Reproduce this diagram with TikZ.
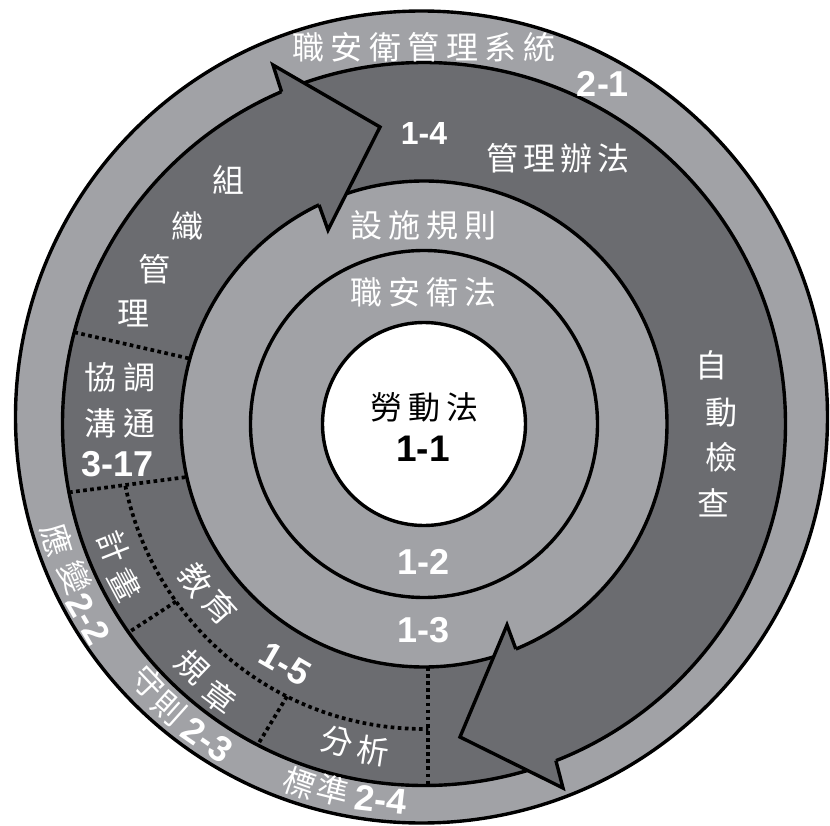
\documentclass[tikz,border=0pt]{standalone}
\usepackage{fontspec}
\newfontfamily\cjk{Noto Sans CJK TC}
\newfontfamily\numf{Liberation Sans}
\definecolor{lightg}{RGB}{161,162,166}
\definecolor{darkg}{RGB}{107,108,112}
\newcommand{\cg}{\hspace{6pt}}
\newcommand{\nbf}{\numf\bfseries\fontsize{36}{36}\selectfont}
\begin{document}
\begin{tikzpicture}[x=1pt,y=1pt,
  cj/.style={font=\cjk\fontsize{32}{32}\selectfont, text=white, inner sep=0pt},
  nb/.style={font=\nbf, text=white, inner sep=0pt},
  ringline/.style={draw=black, line width=3.4pt},
  dotline/.style={draw=black, line width=3.7pt, dash pattern=on 3.7pt off 3.4pt},
  headline/.style={draw=black, line width=3.4pt, line join=miter}]
\useasboundingbox (-424,-401) rectangle (406,424);
% rings
\draw[ringline, fill=lightg] (-2.5,7) circle (406);
\draw[ringline, fill=darkg] (0,0) circle (361.5);
\draw[ringline, fill=lightg] (0,0) circle (243);
\draw[ringline] (0,0) circle (173.5);
\draw[ringline, fill=white] (0,0) circle (101.5);
% dotted dividers
\coordinate (d1o) at (165.3:361.5); \coordinate (d1i) at (164.4:243);
\coordinate (d2o) at (190.9:361.5); \coordinate (d2i) at (192.6:243);
\coordinate (d3s) at (191.7:305);
\coordinate (d4i) at (215.6:305); \coordinate (d4o) at (215.2:361.5);
\coordinate (d5i) at (243.3:305); \coordinate (d5o) at (242.6:361.5);
\coordinate (d6i) at (4,-243); \coordinate (d6o) at (4,-361.5);
\draw[dotline] (d1o) -- (d1i);
\draw[dotline] (d2o) -- (d2i);
\draw[dotline] (d3s) arc[start angle=191.7, end angle=270.8, radius=305];
\draw[dotline] (d4i) -- (d4o);
\draw[dotline] (d5i) -- (d5o);
\draw[dotline] (d6i) -- (d6o);
% arrow head 1 (top)
\coordinate (a1so) at (113.2:361.5);
\coordinate (a1oc) at (-151,359);
\coordinate (a1tip) at (-44,297);
\coordinate (a1ic) at (-96,194);
\coordinate (a1si) at (115.6:243);
\fill[darkg] (a1so) -- (a1oc) -- (a1tip) -- (a1ic) -- (a1si) -- cycle;
\draw[headline] (a1so) -- (a1oc) -- (a1tip) -- (a1ic) -- (a1si);
% arrow head 2 (bottom)
\coordinate (a2so) at (-68.6:361.5);
\coordinate (a2oc) at (139,-364);
\coordinate (a2tip) at (36,-313);
\coordinate (a2ic) at (83,-201);
\coordinate (a2si) at (-67.8:243);
\fill[darkg] (a2so) -- (a2oc) -- (a2tip) -- (a2ic) -- (a2si) -- cycle;
\draw[headline] (a2so) -- (a2oc) -- (a2tip) -- (a2ic) -- (a2si);
% horizontal texts
\node[cj] (sys) at (0,377) {職\hspace{6.5pt}安\hspace{6.5pt}衛\hspace{6.5pt}管\hspace{6.5pt}理\hspace{6.5pt}系\hspace{6.5pt}統};
\node[nb] (n21) at (179,340) {2-1};
\node[nb, font=\numf\bfseries\fontsize{32}{32}\selectfont] (n14) at (0,290.5) {1-4};
\node[cj] (glbf) at (134,266) {管\hspace{5.3pt}理\hspace{5.3pt}辦\hspace{5.3pt}法};
\node[cj] (sslz) at (0,199) {設\cg 施\cg 規\cg 則};
\node[cj] (zawf) at (0,132) {職\cg 安\cg 衛\cg 法};
\node[cj, text=black] (ldf) at (1,17) {勞\cg 動\cg 法};
\node[nb, text=black, font=\numf\bfseries\fontsize{37}{37}\selectfont] (n11) at (-1,-25) {1-1};
\node[nb] (n12) at (0,-138) {1-2};
\node[nb] (n13) at (0,-206) {1-3};
\node[cj] (xt) at (-304,47) {協\hspace{7pt}調};
\node[cj] (gt) at (-304,1) {溝\hspace{7pt}通};
\node[nb] (n317) at (-306,-40) {3-17};
% vertical texts
\node[cj] (v1) at (287,59) {自};
\node[cj] (v2) at (297,11) {動};
\node[cj] (v3) at (297.5,-33.5) {檢};
\node[cj] (v4) at (289,-79) {查};
\node[cj] (o1) at (-195,244) {組};
\node[cj] (o2) at (-236,198) {織};
\node[cj] (o3) at (-269,155) {管};
\node[cj] (o4) at (-290,110) {理};
% texts along the arcs, one glyph per node
\node[cj, rotate=-68.4] (p1) at (201.6:334) {計};
\node[cj, rotate=-61.8] (p2) at (208.2:339) {畫};
\node[cj, rotate=-72.5] (y1) at (197.5:385) {應};
\node[cj, rotate=-66.3] (y2) at (203.7:381) {變};
\node[nb, rotate=-59.9] (n22) at (210.1:388) {2-2};
\node[cj, rotate=-46.8] (s1) at (223.2:378) {守};
\node[cj, rotate=-41.8] (s2) at (228.2:382) {則};
\node[nb, rotate=-34.5] (n23) at (235.5:383) {2-3};
\node[cj, rotate=-19.1] (b1) at (250.9:380) {標};
\node[cj, rotate=-13.9] (b2) at (256.1:378) {準};
\node[nb, rotate=-6.5] (n24) at (263.5:378) {2-4};
\node[cj, rotate=-55.7] (e1) at (214.3:277) {教};
\node[cj, rotate=-48.1] (e2) at (221.9:274) {育};
\node[nb, rotate=-30.1] (n15) at (239.9:277) {1-5};
\node[cj, rotate=-43.7] (r1) at (226.3:336) {規};
\node[cj, rotate=-36.8] (r2) at (233.2:341) {章};
\node[cj, rotate=-15.3] (f1) at (254.7:329) {分};
\node[cj, rotate=-8.9] (f2) at (261.1:331) {析};
\end{tikzpicture}
\end{document}
